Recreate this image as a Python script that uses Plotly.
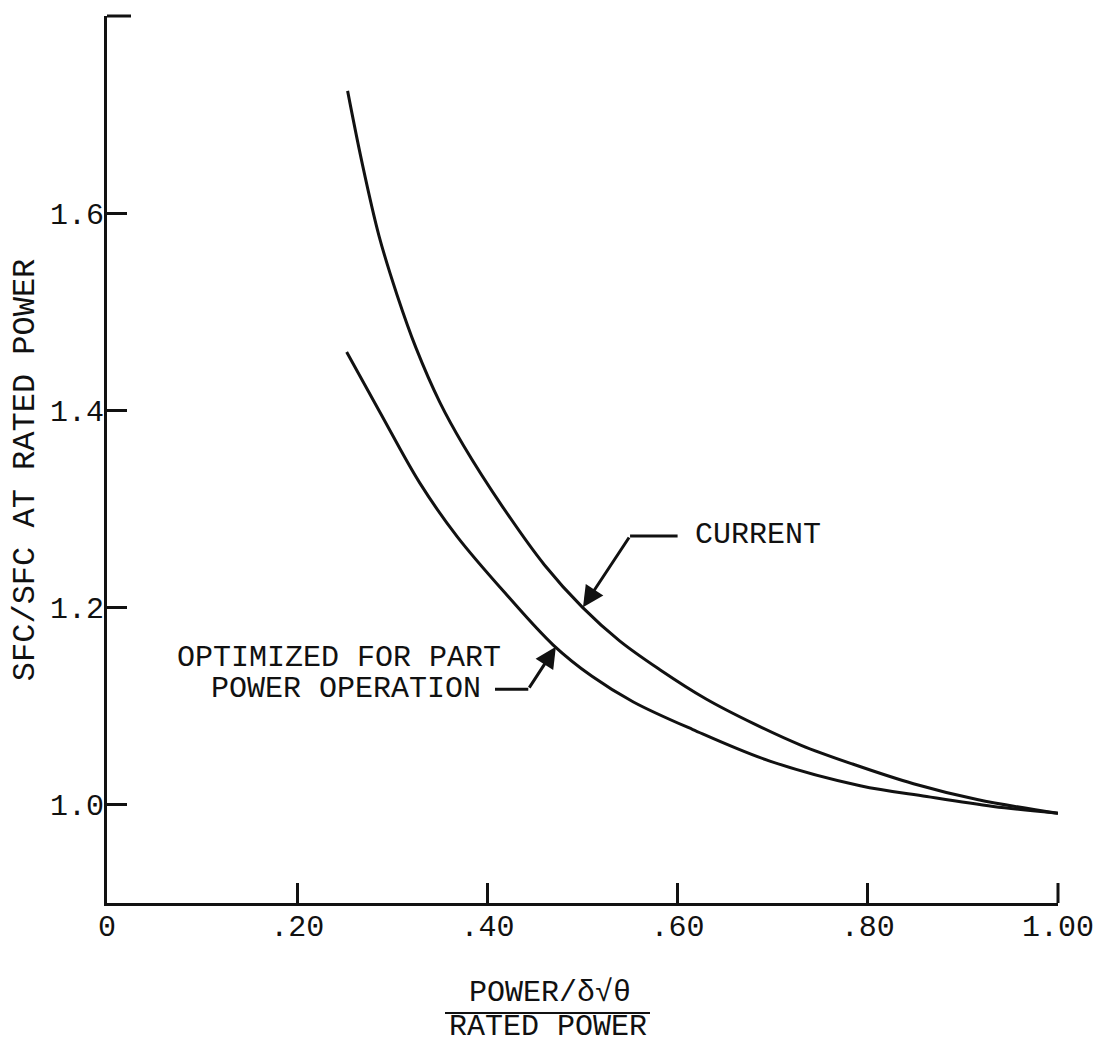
import plotly.graph_objects as go

# ---- data ----
current_x = [0.253, 0.268, 0.286, 0.305, 0.325, 0.350, 0.375, 0.416, 0.460, 0.500,
             0.539, 0.581, 0.630, 0.680, 0.730, 0.784, 0.848, 0.915, 1.000]
current_y = [1.724, 1.652, 1.577, 1.517, 1.463, 1.408, 1.364, 1.302, 1.243, 1.200,
             1.166, 1.137, 1.107, 1.082, 1.060, 1.041, 1.021, 1.005, 0.991]

optimized_x = [0.252, 0.287, 0.329, 0.368, 0.420, 0.469, 0.510, 0.5535,
               0.616, 0.697, 0.792, 0.862, 0.932, 1.000]
optimized_y = [1.459, 1.398, 1.326, 1.272, 1.213, 1.162, 1.130, 1.104,
               1.076, 1.044, 1.019, 1.008, 0.998, 0.991]

x_tickvals = [0, 0.2, 0.4, 0.6, 0.8, 1.0]
x_ticktext = ["0", ".20", ".40", ".60", ".80", "1.00"]
y_tickvals = [1.0, 1.2, 1.4, 1.6]
y_ticktext = ["1.0", "1.2", "1.4", "1.6"]

FONT = "Liberation Mono, Courier New, monospace"
BLACK = "#111111"

fig = go.Figure()
fig.add_trace(go.Scatter(x=current_x, y=current_y, mode="lines",
                         line=dict(color=BLACK, width=3, shape="spline", smoothing=1.0),
                         name="CURRENT", showlegend=False, hoverinfo="skip"))
fig.add_trace(go.Scatter(x=optimized_x, y=optimized_y, mode="lines",
                         line=dict(color=BLACK, width=3, shape="spline", smoothing=1.0),
                         name="OPTIMIZED FOR PART POWER OPERATION", showlegend=False,
                         hoverinfo="skip"))

axis_common = dict(showgrid=False, zeroline=False, showline=True, linecolor=BLACK,
                   linewidth=3, ticks="inside", ticklen=20, tickwidth=3, tickcolor=BLACK,
                   tickfont=dict(family=FONT, size=30, color=BLACK), mirror=False)

fig.update_xaxes(range=[0, 1.0], tickvals=x_tickvals, ticktext=x_ticktext,
                 ticklabelstandoff=-6, **axis_common)
fig.update_yaxes(range=[0.9, 1.8], tickvals=y_tickvals, ticktext=y_ticktext,
                 ticklabelstandoff=-6, **axis_common)

annotations = [
    dict(text="CURRENT", x=0.616, y=1.273, xref="x", yref="y", xanchor="left",
         yanchor="middle", showarrow=False, font=dict(family=FONT, size=30, color=BLACK)),
    dict(text="", x=0.5005, y=1.200, ax=0.550, ay=1.2724, xref="x", yref="y",
         axref="x", ayref="y", showarrow=True, arrowhead=2, arrowsize=1.4,
         arrowwidth=3, arrowcolor=BLACK, standoff=0),
    dict(text="OPTIMIZED FOR PART", x=0.244, y=1.149, xref="x", yref="y",
         xanchor="center", yanchor="middle", showarrow=False,
         font=dict(family=FONT, size=30, color=BLACK)),
    dict(text="POWER OPERATION", x=0.251, y=1.117, xref="x", yref="y",
         xanchor="center", yanchor="middle", showarrow=False,
         font=dict(family=FONT, size=30, color=BLACK)),
    dict(text="", x=0.472, y=1.160, ax=0.443, ay=1.117, xref="x", yref="y",
         axref="x", ayref="y", showarrow=True, arrowhead=2, arrowsize=1.4,
         arrowwidth=3, arrowcolor=BLACK, standoff=0),
    dict(text="SFC/SFC AT RATED POWER", x=-0.0862, y=0.488, xref="paper", yref="paper",
         xanchor="center", yanchor="middle", textangle=-90, showarrow=False,
         font=dict(family=FONT, size=32, color=BLACK)),
    dict(text="POWER/δ√θ", x=(550 - 107) / 951, y=(903 - 993) / 887, xref="paper",
         yref="paper", xanchor="center", yanchor="middle", showarrow=False,
         font=dict(family=FONT, size=30, color=BLACK)),
    dict(text="RATED POWER", x=(548 - 107) / 951, y=(903 - 1027) / 887, xref="paper",
         yref="paper", xanchor="center", yanchor="middle", showarrow=False,
         font=dict(family=FONT, size=30, color=BLACK)),
]

shapes = [
    # elbow segments of the label leaders
    dict(type="line", x0=0.600, y0=1.2724, x1=0.550, y1=1.2724, xref="x", yref="y",
         line=dict(color=BLACK, width=3)),
    dict(type="line", x0=0.408, y0=1.117, x1=0.443, y1=1.117, xref="x", yref="y",
         line=dict(color=BLACK, width=3)),
    # fraction bar of the x-axis title
    dict(type="line", x0=(445 - 107) / 951, x1=(650 - 107) / 951,
         y0=(903 - 1013) / 887, y1=(903 - 1013) / 887, xref="paper", yref="paper",
         line=dict(color=BLACK, width=2)),
    # end serifs of the axis lines
    dict(type="line", x0=0, x1=24 / 951, y0=1, y1=1, xref="paper", yref="paper",
         line=dict(color=BLACK, width=3)),
    dict(type="line", x0=1, x1=1, y0=0, y1=20 / 887, xref="paper", yref="paper",
         line=dict(color=BLACK, width=3)),
]

# page body has an 8px default margin; size/margins compensate for it
fig.update_layout(width=1094, height=1036, margin=dict(l=99, r=44, t=8, b=141),
                  paper_bgcolor="white", plot_bgcolor="white",
                  annotations=annotations, shapes=shapes, showlegend=False,
                  font=dict(family=FONT, color=BLACK))

fig.write_html("out.html")
